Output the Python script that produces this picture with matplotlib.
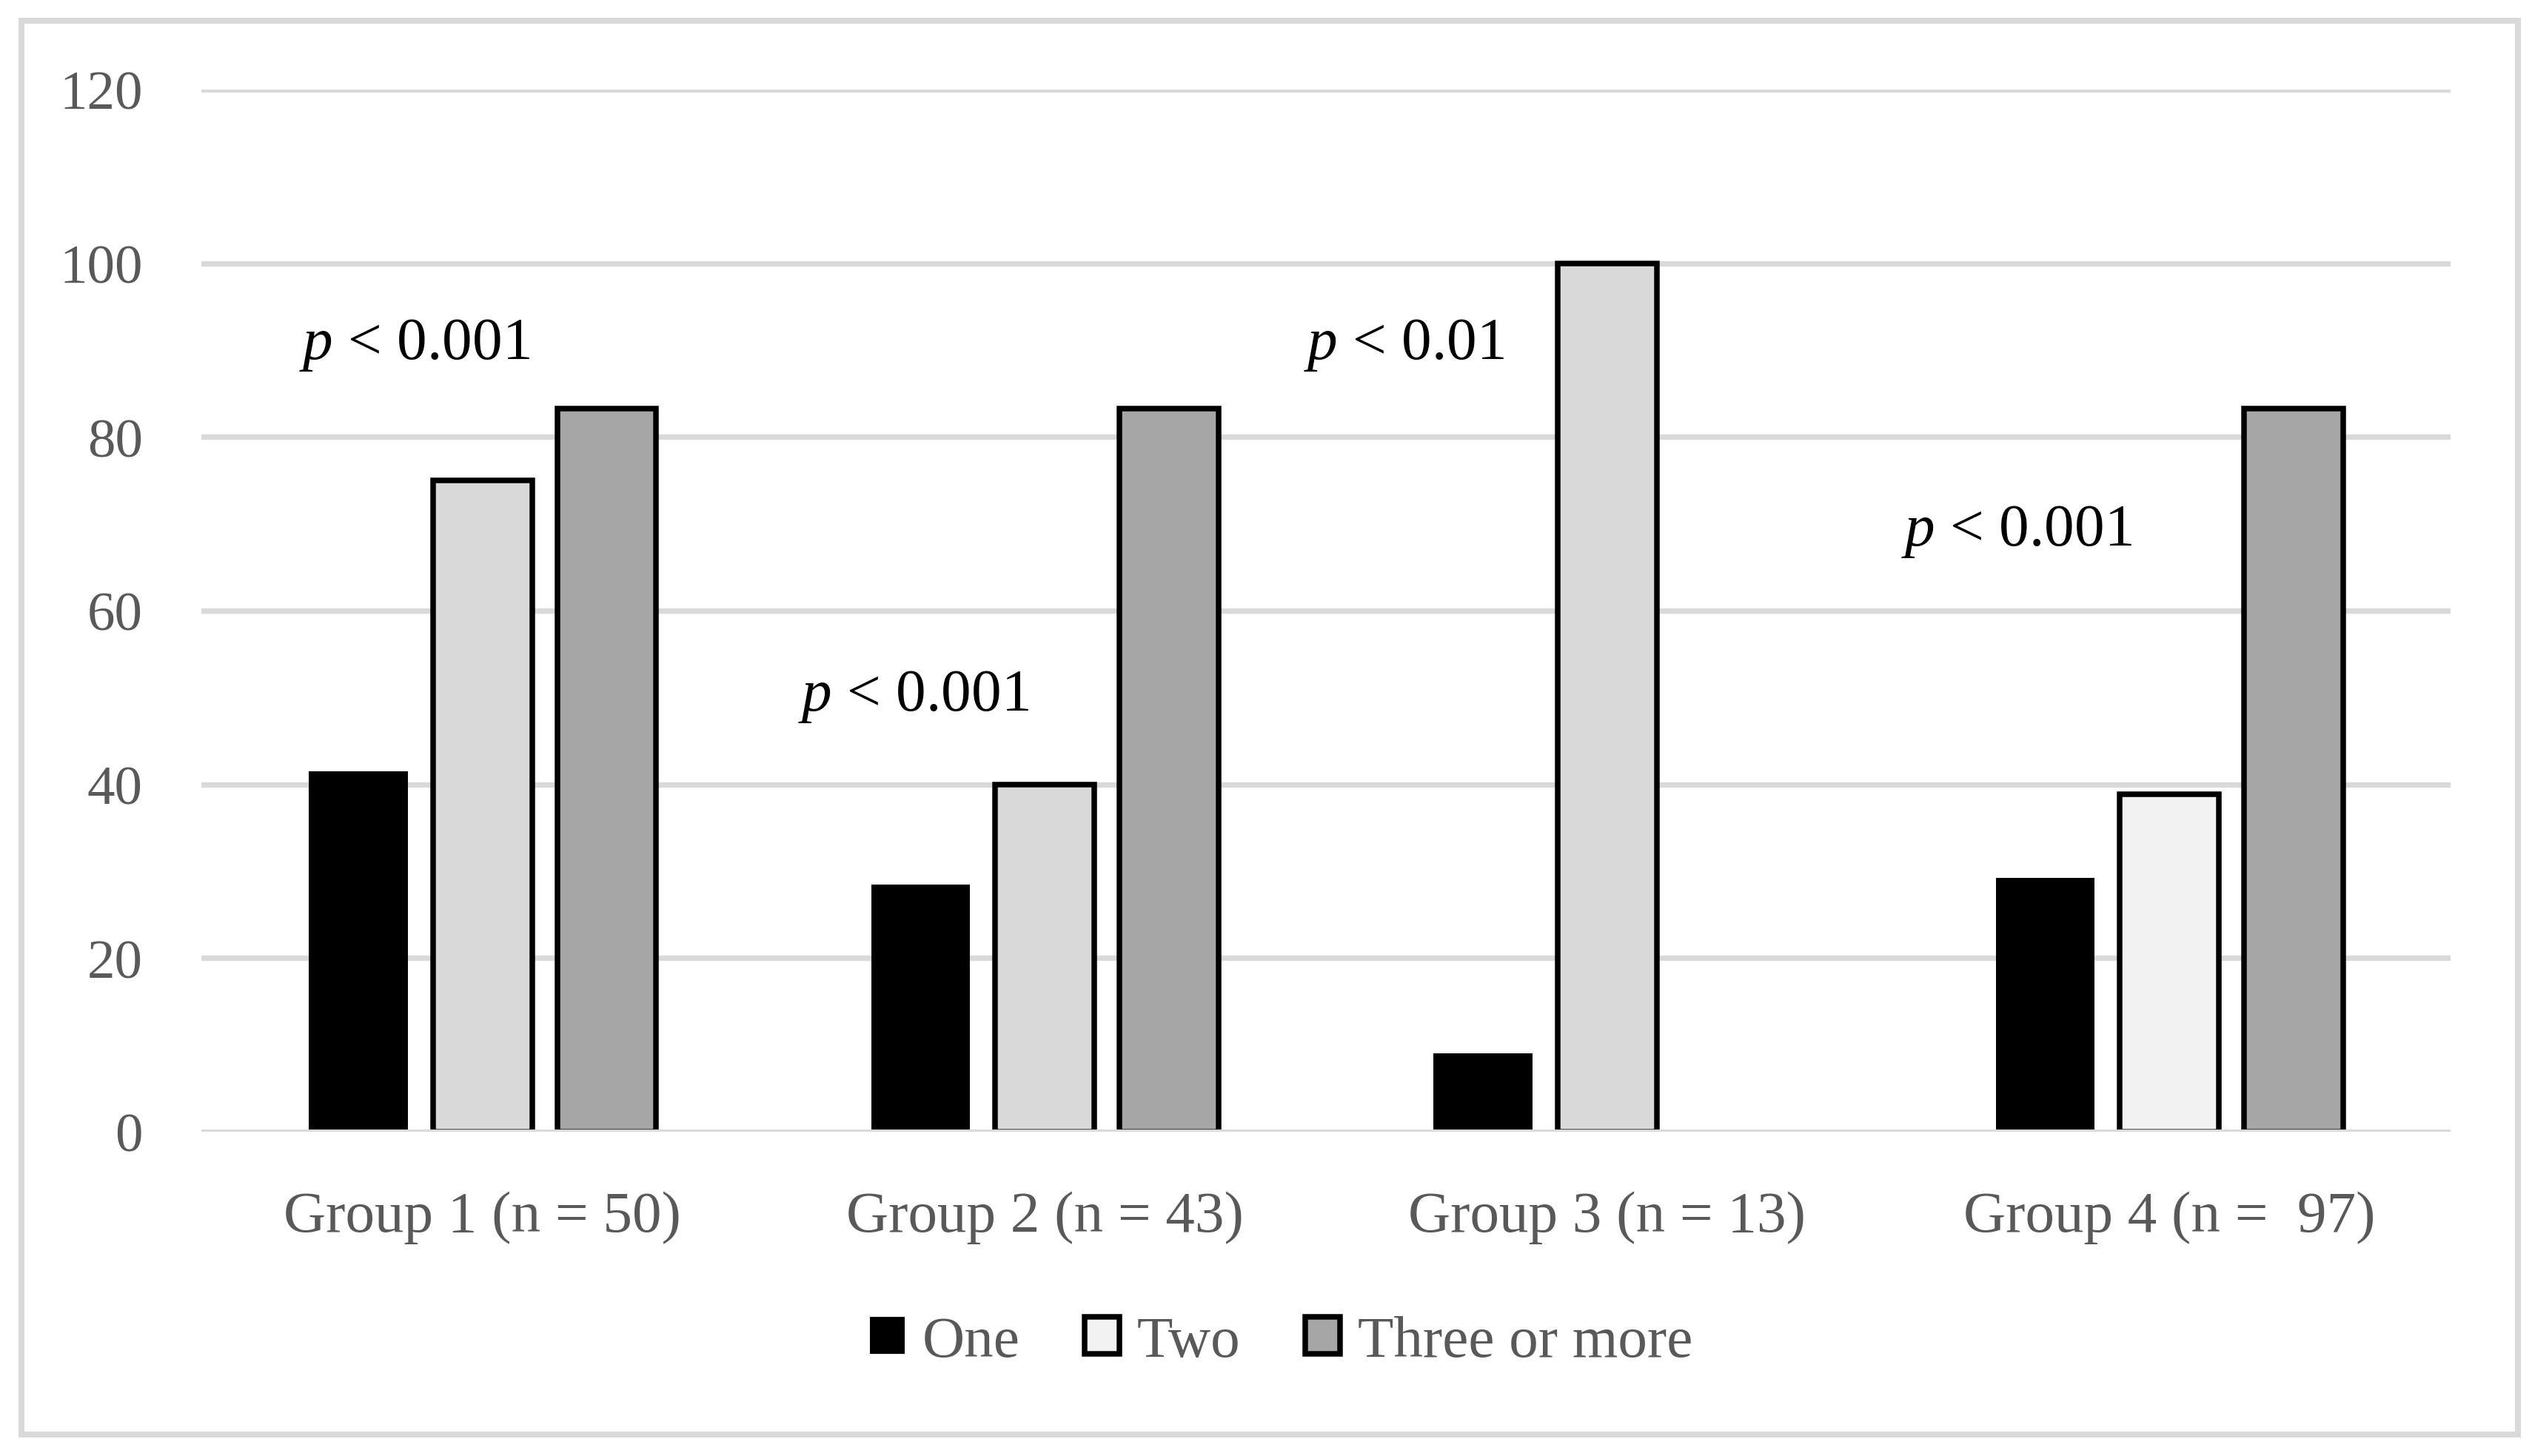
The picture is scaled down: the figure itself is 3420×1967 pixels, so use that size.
import numpy as np
import matplotlib
matplotlib.use("Agg")
import matplotlib.pyplot as plt
from matplotlib.patches import Patch, Rectangle

plt.rcParams["font.family"] = ["Liberation Serif", "DejaVu Serif"]
plt.rcParams["mathtext.fontset"] = "custom"
plt.rcParams["mathtext.rm"] = "Liberation Serif"
plt.rcParams["mathtext.it"] = "Liberation Serif:italic"

# data
groups = ["Group 1 (n = 50)", "Group 2 (n = 43)", "Group 3 (n = 13)", "Group 4 (n =  97)"]
one = [41.5, 28.5, 9.0, 29.2]
two = [75.0, 40.0, 100.0, 38.9]
three = [83.3, 83.3, np.nan, 83.3]
series_names = ["One", "Two", "Three or more"]
p_texts = [r"$p$ < 0.001", r"$p$ < 0.001", r"$p$ < 0.01", r"$p$ < 0.001"]
yticks = [0, 20, 40, 60, 80, 100, 120]

# layout / style
p_pos = [(-0.326, 89.1), (0.561, 48.6), (1.460, 89.1), (2.523, 67.6)]
two_colors = ["#D9D9D9", "#D9D9D9", "#D9D9D9", "#F2F2F2"]
grid_c = "#D9D9D9"
text_c = "#595959"
edge_lw = 1.8
bar_w = 0.176
step = 0.221

fig = plt.figure(figsize=(11.4, 6.56), dpi=300)
ax = fig.add_axes([0.07953, 0.22256, 0.88831, 0.71545])

x = np.arange(len(groups))
ax.bar(x - step, one, bar_w, color="#000000", linewidth=0, zorder=2)
ax.bar(x, two, bar_w, color=two_colors, edgecolor="#000000", linewidth=edge_lw, zorder=2)
ax.bar(x + step, three, bar_w, color="#A6A6A6", edgecolor="#000000", linewidth=edge_lw, zorder=2)

for yv in yticks:
    ax.axhline(yv, color=grid_c, linewidth=1.75, zorder=0 if yv else 3)

for (px, py), t in zip(p_pos, p_texts):
    ax.text(px, py, t, fontsize=19.5, color="#000000", ha="left", va="baseline")

ax.set_xlim(-0.5, len(groups) - 0.5)
ax.set_ylim(0, 120)
ax.set_yticks(yticks)
ax.set_xticks(x)
ax.set_xticklabels(groups)
ax.tick_params(axis="x", length=0, pad=19, labelsize=19, labelcolor=text_c)
ax.tick_params(axis="y", length=0, pad=19, labelsize=18, labelcolor=text_c)
for s in ax.spines.values():
    s.set_visible(False)

handles = [
    Patch(facecolor="#000000", linewidth=0),
    Patch(facecolor="#F2F2F2", edgecolor="#000000", linewidth=edge_lw),
    Patch(facecolor="#A6A6A6", edgecolor="#000000", linewidth=edge_lw),
]
leg = fig.legend(handles, series_names, loc="center", bbox_to_anchor=(0.506, 0.078),
                 ncol=3, frameon=False, fontsize=19, handlelength=0.6, handleheight=0.6,
                 handletextpad=0.3, columnspacing=1.1)
for t in leg.get_texts():
    t.set_color(text_c)

# outer chart border
fig.patches.append(Rectangle((0.00848, 0.01474), 0.98596, 0.97053, transform=fig.transFigure,
                             fill=False, edgecolor=grid_c, linewidth=1.92))

fig.savefig("out.png", dpi=300, facecolor="white")
